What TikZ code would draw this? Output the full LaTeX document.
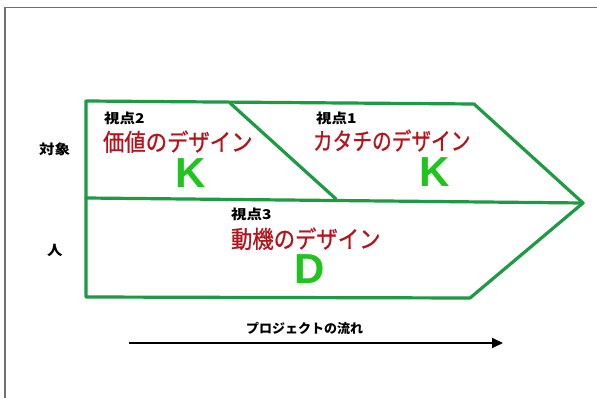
\documentclass[tikz,border=0pt]{standalone}
\usepackage{fontspec}
\usetikzlibrary{arrows.meta}
\newfontfamily\jp{Noto Sans CJK JP}
\newfontfamily\jpwide[FakeStretch=1.15]{Noto Sans CJK JP}
\newfontfamily\jpnarrow[FakeStretch=0.89,FakeBold=0.8]{Noto Sans CJK JP}
\newfontfamily\jpnarrower[FakeStretch=0.82,FakeBold=0.8]{Noto Sans CJK JP}
\newfontfamily\lat{Liberation Sans}
\definecolor{linegreen}{HTML}{1E9A45}
\definecolor{letgreen}{HTML}{1FC41F}
\definecolor{titlered}{HTML}{B5121B}
\definecolor{framegray}{HTML}{707070}
\tikzset{
  txt/.style={anchor=base west, inner sep=0pt, outer sep=0pt},
  viewlbl/.style={txt, font=\jpwide\bfseries\fontsize{13.5}{13.5}\selectfont},
  sidelbl/.style={txt, font=\jpwide\bfseries\fontsize{13.5}{13.5}\selectfont},
  designlbl/.style={txt, text=titlered, font=\jpnarrow\fontsize{24}{24}\selectfont},
  bigletter/.style={txt, text=letgreen, font=\lat\bfseries\fontsize{42}{42}\selectfont},
  greenline/.style={draw=linegreen, line width=3.2pt, line join=round, line cap=round},
  flowarrow/.style={draw=black, line width=1.8pt, -{Triangle[length=11pt,width=10pt]}}
}
\begin{document}
\begin{tikzpicture}[x=1pt,y=-1pt]
\useasboundingbox (0,0) rectangle (597,398);
\fill[white] (0,0) rectangle (597,398);
\draw[framegray, line width=1.6pt] (4.8,398) -- (4.8,7.6) -- (597,7.6);

% outline
\coordinate (TL) at (86,101);
\coordinate (TR) at (474,104);
\coordinate (tip) at (583,203);
\coordinate (BR) at (470,298);
\coordinate (BL) at (86,297);
\coordinate (ML) at (86,198);
\coordinate (DT) at (230,103);
\coordinate (DB) at (336,199);
\draw[greenline] (TL) -- (TR) -- (tip) -- (BR) -- (BL) -- cycle;
\draw[greenline] (ML) -- (tip);
\draw[greenline] (DT) -- (DB);

% side labels
\node[sidelbl] (obj) at (39,154.5) {対象};
\node[sidelbl] (hito) at (47,255.5) {人};

% view 2
\node[viewlbl] (v2) at (104,124) {視点2};
\node[designlbl] (d2) at (103,151) {価値のデザイン};
\node[bigletter] (k2) at (175,188) {K};

% view 1
\node[viewlbl] (v1) at (316,124) {視点1};
\node[designlbl, font=\jpnarrower\fontsize{24}{24}\selectfont] (d1) at (313,150) {カタチのデザイン};
\node[bigletter] (k1) at (419,187) {K};

% view 3
\node[viewlbl] (v3) at (231,219.5) {視点3};
\node[designlbl] (d3) at (231,248) {動機のデザイン};
\node[bigletter] (dd) at (294,283) {D};

% flow arrow
\node[txt, font=\jp\bfseries\fontsize{13}{13}\selectfont] (flow) at (246,333) {プロジェクトの流れ};
\coordinate (fs) at (129,343);
\coordinate (fe) at (503,343);
\draw[flowarrow] (fs) -- (fe);
\end{tikzpicture}
\end{document}
